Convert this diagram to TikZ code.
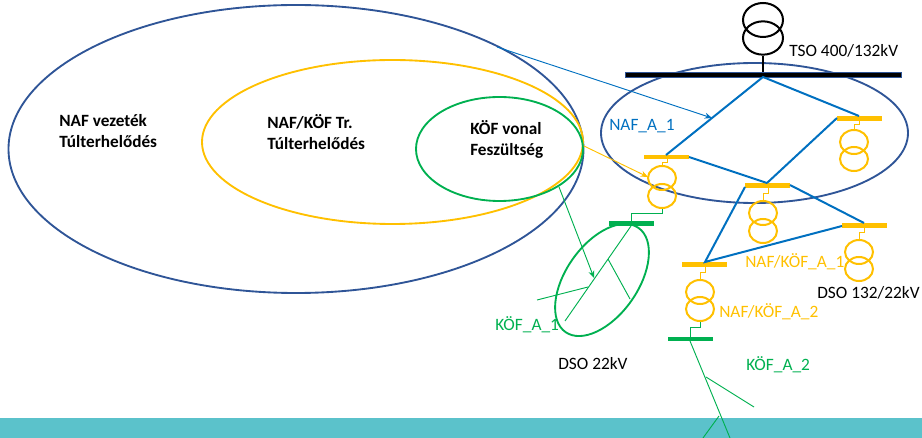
\documentclass[tikz,border=0pt]{standalone}
\usepackage{fontspec}
\setmainfont{Carlito}
\usetikzlibrary{shapes.geometric,arrows.meta}
\definecolor{linkblue}{HTML}{0070C0}
\definecolor{ringblue}{HTML}{2F5597}
\definecolor{amber}{HTML}{FFC000}
\definecolor{grn}{HTML}{00B050}
\definecolor{teal}{HTML}{5BC2CB}
\tikzset{
  x=0.75pt,y=-0.75pt,
  ring/.style={draw=#1,ellipse,line width=1.4pt,inner sep=0pt,fill=none},
  tr/.style={draw=#1,ellipse,line width=1.5pt,inner sep=0pt,minimum width=21pt,minimum height=18pt},
  bus/.style={fill=#1,draw=none,inner sep=0pt,minimum width=33.75pt,minimum height=3.2pt},
  wire/.style={draw=#1,line width=0.75pt},
  feed/.style={draw=linkblue,line width=1.5pt},
  lat/.style={draw=grn,line width=0.7pt},
  arr/.style={draw=#1,line width=0.7pt,-{Stealth[length=5.5pt,width=4.5pt]}},
  lab/.style={font=\fontsize{13pt}{15pt}\selectfont,anchor=west,inner sep=0pt,text=#1},
  head/.style={font=\fontsize{12.9pt}{15.7pt}\selectfont\bfseries,anchor=north west,inner sep=0pt,align=left}
}
\begin{document}
\begin{tikzpicture}
\useasboundingbox (0,0) rectangle (922,438);
\fill[teal] (0,418) rectangle (922,438);
% overlap rings
\node[ring=ringblue,minimum width=431.25pt,minimum height=216pt] (rnaf) at (296,149) {};
\node[ring=amber,minimum width=285.75pt,minimum height=123pt] (rtr) at (392.5,142) {};
\node[ring=grn,minimum width=125.25pt,minimum height=78pt] (rkof) at (499.5,149) {};
\node[ring=ringblue,minimum width=230.25pt,minimum height=105pt] (rnet) at (754.5,133) {};
\node[ring=grn,minimum width=95.4pt,minimum height=54pt,rotate=55] (rdso) at (602,280) {};
% busbars
\node[fill=black,draw=ringblue,inner sep=0pt,minimum width=207pt,minimum height=3.9pt] (bmain) at (763,74.5) {};
\node[bus=amber] (b1) at (666.5,157) {};
\node[bus=amber] (b2) at (767.5,185.5) {};
\node[bus=amber] (b3) at (859.5,118.5) {};
\node[bus=amber] (b4) at (864.5,225.5) {};
\node[bus=amber] (b5) at (704.5,264.5) {};
\node[bus=grn] (g1) at (631,223.5) {};
\node[bus=grn] (g2) at (690,339) {};
% transformers
\node[draw=black,ellipse,line width=1.5pt,inner sep=0pt,minimum width=30pt,minimum height=25.5pt] (ttop) at (763,20) {};
\node[draw=black,ellipse,line width=1.5pt,inner sep=0pt,minimum width=30pt,minimum height=25pt] (tbot) at (763,38) {};
\node[tr=amber] (t1a) at (662,178) {};
\node[tr=amber] (t1b) at (662,196) {};
\node[tr=amber] (t2a) at (763,213) {};
\node[tr=amber] (t2b) at (763,231) {};
\node[tr=amber] (t3a) at (854,142) {};
\node[tr=amber] (t3b) at (854,159) {};
\node[tr=amber] (t4a) at (859,252) {};
\node[tr=amber] (t4b) at (859,269) {};
\node[tr=amber] (t5a) at (700,292) {};
\node[tr=amber] (t5b) at (700,309) {};
% junctions
\coordinate (apex) at (763,77);
\coordinate (p1) at (666,155);
\coordinate (p1r) at (689,157);
\coordinate (p2) at (767,183);
\coordinate (p2r) at (790,185);
\coordinate (p2l) at (745,187);
\coordinate (p3l) at (837,118);
\coordinate (p3) at (859,116);
\coordinate (p4) at (864,223);
\coordinate (p4l) at (842,226);
\coordinate (p5) at (705,262);
\draw[wire=black,line width=1pt] (tbot.south) -- (bmain.north);
\draw[feed] (p1) -- (apex) -- (p3);
\draw[feed] (p1r) -- (p2);
\draw[feed] (p2) -- (p3l);
\draw[feed] (p2r) -- (p4);
\draw[feed] (p2l) -- (p5) -- (p4l);
% stepped tails
\draw[wire=amber] (667,159) |- (662,163) -- (t1a.north);
\draw[wire=amber] (768,188) |- (763,194) -- (t2a.north);
\draw[wire=amber] (859,121) |- (854,125) -- (t3a.north);
\draw[wire=amber] (864,228) |- (859,233) -- (t4a.north);
\draw[wire=amber] (705,267) |- (700,273) -- (t5a.north);
\draw[wire=grn] (t1b.south) |- (631,214) -- (g1.north);
\draw[wire=grn] (t5b.south) |- (690,328) -- (g2.north);
% 22 kV lateral A_1
\coordinate (a0) at (631,226);
\coordinate (a1) at (565,321);
\coordinate (a2) at (608,259);
\coordinate (a3) at (630,299);
\coordinate (a4) at (588,287);
\coordinate (a5) at (537,300);
\draw[lat] (a0) -- (a1);
\draw[lat] (a2) -- (a3);
\draw[lat] (a4) -- (a5);
% 22 kV lateral A_2
\coordinate (c0) at (690,341);
\coordinate (c1) at (730,438);
\coordinate (c2) at (706,377);
\coordinate (c3) at (754,407);
\coordinate (c4) at (719,416);
\coordinate (c5) at (703,438);
\draw[lat] (c0) -- (c1);
\draw[lat] (c2) -- (c3);
\draw[lat] (c4) -- (c5);
% arrows
\coordinate (e1) at (497,47);
\coordinate (e2) at (712,118);
\coordinate (e3) at (584,146);
\coordinate (e4) at (648,177);
\coordinate (e5) at (559,187);
\coordinate (e6) at (594,278);
\draw[arr=linkblue] (e1) -- (e2);
\draw[arr=amber] (e3) -- (e4);
\draw[arr=grn] (e5) -- (e6);
% texts
\node[head] (h1) at (59,114) {NAF vezeték\\Túlterhelődés};
\node[head] (h2) at (267,114) {NAF/KÖF Tr.\\Túlterhelődés};
\node[head] (h3) at (470,120) {KÖF vonal\\Feszültség};
\node[lab=black] (l1) at (789,51) {TSO 400/132kV};
\node[lab=linkblue] (l2) at (609,126) {NAF\_A\_1};
\node[lab=amber] (l3) at (745,262) {NAF/KÖF\_A\_1};
\node[lab=amber] (l4) at (719,312) {NAF/KÖF\_A\_2};
\node[lab=black] (l5) at (817,293) {DSO 132/22kV};
\node[lab=grn] (l6) at (495,325) {KÖF\_A\_1};
\node[lab=black] (l7) at (558,364) {DSO 22kV};
\node[lab=grn] (l8) at (746,365) {KÖF\_A\_2};
\end{tikzpicture}
\end{document}
